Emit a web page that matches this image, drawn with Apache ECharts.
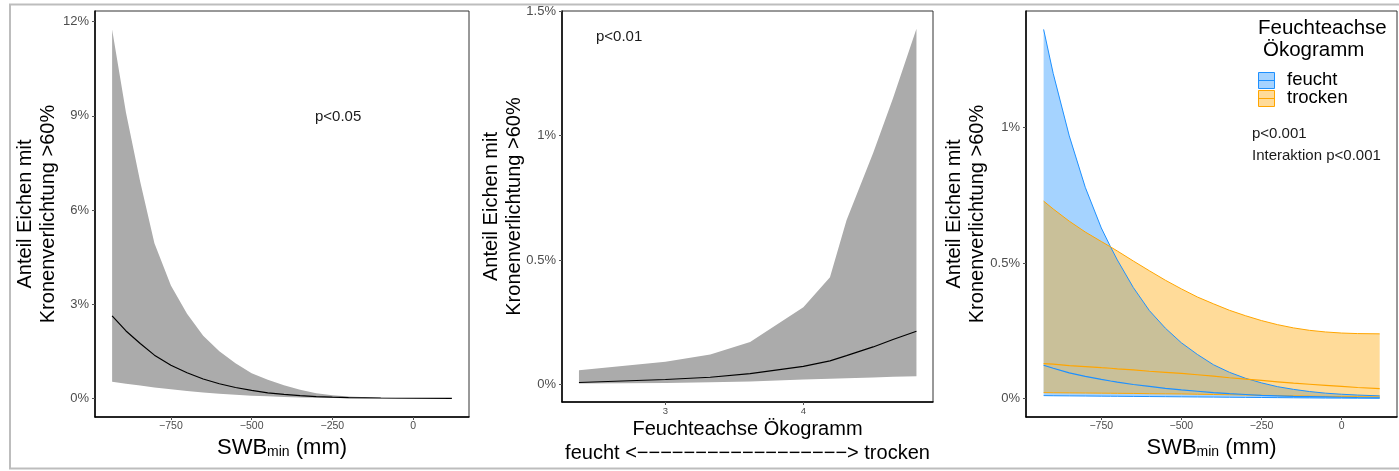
<!DOCTYPE html>
<html>
<head>
  <meta http-equiv="Content-Type" content="text/html; charset=utf-8" />
  <script type="text/javascript" src="https://cdn.jsdelivr.net/npm/echarts@6/dist/echarts.min.js"></script>
  <style type="text/css">
    body, html { width: 100%; height: 100%; margin: 0; background: #fff; }
    #main { width: 1399px; height: 471px; }
  </style>
  <title>Kronenverlichtung Eichen</title>
</head>
<body>
  <div id="main"></div>
<script type="text/javascript">
  // --- panel 1: SWBmin ---
  const swb = [-932, -889, -845, -801, -750, -700, -650, -600, -550, -500, -450, -400, -350, -300, -250, -200, -100, 0, 120]
  const p1Upper = [11.75, 9.1, 6.9, 4.94, 3.6, 2.7, 2.0, 1.5, 1.12, 0.8, 0.6, 0.42, 0.28, 0.17, 0.1, 0.06, 0.02, 0.006, 0.002]
  const p1Mean = [2.63, 2.15, 1.75, 1.38, 1.06, 0.82, 0.62, 0.47, 0.35, 0.26, 0.18, 0.13, 0.09, 0.06, 0.04, 0.03, 0.015, 0.007, 0.003]
  const p1Lower = [0.53, 0.47, 0.41, 0.35, 0.29, 0.24, 0.19, 0.15, 0.12, 0.09, 0.07, 0.05, 0.035, 0.025, 0.015, 0.01, 0.004, 0.002, 0.001]

  // --- panel 2: Feuchteachse ---
  const eco = [2.373, 3.0, 3.325, 3.614, 4.0, 4.193, 4.313, 4.506, 4.65, 4.82]
  const p2Upper = [0.056, 0.09, 0.12, 0.17, 0.31, 0.43, 0.66, 0.93, 1.15, 1.43]
  const p2Mean = [0.007, 0.019, 0.028, 0.043, 0.072, 0.094, 0.115, 0.15, 0.18, 0.213]
  const p2Lower = [0.003, 0.005, 0.008, 0.011, 0.019, 0.022, 0.024, 0.027, 0.03, 0.032]

  // --- panel 3: SWBmin x Feuchteachse ---
  const swb3 = [-930, -900, -850, -800, -750, -721, -700, -650, -600, -550, -500, -450, -400, -350, -300, -250, -200, -150, -100, -50, 0, 50, 119]
  const feuchtUpper = [1.363, 1.2, 0.97, 0.78, 0.63, 0.56, 0.512, 0.41, 0.325, 0.26, 0.206, 0.163, 0.125, 0.097, 0.075, 0.058, 0.044, 0.034, 0.026, 0.02, 0.016, 0.013, 0.01]
  const feuchtMean = [0.123, 0.112, 0.095, 0.082, 0.071, 0.065, 0.061, 0.052, 0.045, 0.038, 0.032, 0.027, 0.022, 0.018, 0.015, 0.012, 0.01, 0.008, 0.007, 0.006, 0.005, 0.004, 0.003]
  const feuchtLower = [0.011, 0.0105, 0.01, 0.0095, 0.009, 0.0087, 0.0085, 0.008, 0.0075, 0.007, 0.0065, 0.006, 0.0055, 0.005, 0.0045, 0.004, 0.0035, 0.003, 0.0025, 0.002, 0.0018, 0.0015, 0.0012]
  const trockenUpper = [0.729, 0.7, 0.655, 0.615, 0.58, 0.56, 0.545, 0.508, 0.472, 0.437, 0.405, 0.375, 0.35, 0.326, 0.306, 0.288, 0.273, 0.261, 0.252, 0.246, 0.242, 0.24, 0.239]
  const trockenMean = [0.129, 0.127, 0.122, 0.118, 0.114, 0.112, 0.11, 0.106, 0.101, 0.097, 0.093, 0.088, 0.083, 0.077, 0.072, 0.067, 0.062, 0.057, 0.053, 0.049, 0.045, 0.041, 0.037]
  const trockenLower = [0.022, 0.0215, 0.021, 0.0205, 0.02, 0.0197, 0.0195, 0.019, 0.018, 0.0175, 0.017, 0.016, 0.015, 0.014, 0.013, 0.012, 0.011, 0.01, 0.009, 0.008, 0.0075, 0.007, 0.006]

  const swbTicks = [-750, -500, -250, 0]
  const p1YTicks = [0, 3, 6, 9, 12]
  const p2XTicks = [3, 4]
  const p2YTicks = [0, 0.5, 1, 1.5]
  const p3YTicks = [0, 0.5, 1]

  const FONT = 'Liberation Sans, Arial, sans-serif'
  const yTitle = 'Anteil Eichen mit\nKronenverlichtung >60%'
  const swbTitle = '{a|SWB}{s|min}{a| (mm)}'
  const ecoTitle = 'Feuchteachse Ökogramm\nfeucht <' + '\u2212'.repeat(18) + '> trocken'
  const swbRich = {
    a: { fontSize: 22, fontFamily: FONT, color: '#000', verticalAlign: 'bottom' },
    s: { fontSize: 14, fontFamily: FONT, color: '#000', verticalAlign: 'bottom' }
  }

  let myChart = echarts.init(document.getElementById('main'))

  function minus(v) {
    return v < 0 ? '\u2212' + Math.abs(v) : '' + v
  }

  function xAx(idx, min, max, ticks, name, nameGap, labelSize, nameStyle) {
    return {
      type: 'value', gridIndex: idx, min: min, max: max,
      axisLine: { onZero: false, lineStyle: { color: '#000', width: 1.5 } },
      axisTick: { length: 3, lineStyle: { color: '#555' }, customValues: ticks },
      axisLabel: { customValues: ticks, formatter: minus, fontSize: labelSize, color: '#4d4d4d', fontFamily: FONT, margin: 4 },
      splitLine: { show: false },
      name: name, nameLocation: 'middle', nameGap: nameGap, nameMoveOverlap: false,
      nameTextStyle: nameStyle
    }
  }

  function yAx(idx, min, max, ticks, nameGap) {
    return {
      type: 'value', gridIndex: idx, min: min, max: max,
      axisLine: { onZero: false, lineStyle: { color: '#000', width: 1.5 } },
      axisTick: { length: 3, lineStyle: { color: '#555' }, customValues: ticks },
      axisLabel: { customValues: ticks, formatter: v => v + '%', fontSize: 13, color: '#4d4d4d', fontFamily: FONT, margin: 6 },
      splitLine: { show: false },
      name: yTitle, nameLocation: 'middle', nameGap: nameGap, nameMoveOverlap: false,
      nameTextStyle: { fontSize: 20, lineHeight: 23, color: '#000', fontFamily: FONT, align: 'center' }
    }
  }

  // ribbon polygon between lo and hi, placed with the grid's own scales
  function ribbon(idx, xs, lo, hi, fill) {
    return {
      type: 'custom', xAxisIndex: idx, yAxisIndex: idx, silent: true,
      data: xs.map((x, i) => [x, lo[i], hi[i]]),
      renderItem: function (params, api) {
        if (params.dataIndex !== 0) return
        let pts = []
        for (let i = 0; i < xs.length; i++) pts.push(api.coord([xs[i], hi[i]]))
        for (let i = xs.length - 1; i >= 0; i--) pts.push(api.coord([xs[i], lo[i]]))
        return { type: 'polygon', shape: { points: pts }, style: { fill: fill } }
      }
    }
  }

  function line(idx, xs, ys, color, width) {
    return {
      type: 'line', xAxisIndex: idx, yAxisIndex: idx, symbol: 'none', silent: true,
      data: xs.map((x, i) => [x, ys[i]]), lineStyle: { color: color, width: width }
    }
  }

  function txt(x, y, text, size) {
    return { type: 'text', x: x, y: y, style: { text: text, font: size + 'px ' + FONT, fill: '#1a1a1a', align: 'left', verticalAlign: 'middle' } }
  }

  const gridStyle = { show: true, borderColor: '#333', borderWidth: 1, backgroundColor: 'transparent' }

  option = {
    animation: false,
    grid: [
      Object.assign({ left: 95, top: 11, width: 374, height: 406 }, gridStyle),
      Object.assign({ left: 562, top: 11, width: 371, height: 391 }, gridStyle),
      Object.assign({ left: 1026, top: 11, width: 371, height: 406 }, gridStyle)
    ],
    xAxis: [
      xAx(0, -985, 173, swbTicks, swbTitle, 20, 10.5, { rich: swbRich }),
      xAx(1, 2.25, 4.94, p2XTicks, ecoTitle, 16, 9.5,
        { fontSize: 20, lineHeight: 23.5, color: '#000', fontFamily: FONT, align: 'center' }),
      xAx(2, -985, 173, swbTicks, swbTitle, 20, 10.5, { rich: swbRich })
    ],
    yAxis: [
      yAx(0, -0.59, 12.34, p1YTicks, 35),
      yAx(1, -0.0715, 1.5015, p2YTicks, 36),
      yAx(2, -0.068, 1.431, p3YTicks, 37)
    ],
    series: [
      ribbon(0, swb, p1Lower, p1Upper, '#ababab'),
      line(0, swb, p1Mean, '#000', 1.2),
      ribbon(1, eco, p2Lower, p2Upper, '#ababab'),
      line(1, eco, p2Mean, '#000', 1.2),
      ribbon(2, swb3, feuchtLower, feuchtUpper, 'rgba(30,144,255,0.4)'),
      line(2, swb3, feuchtUpper, '#1e90ff', 1),
      line(2, swb3, feuchtLower, '#1e90ff', 1),
      ribbon(2, swb3, trockenLower, trockenUpper, 'rgba(255,165,0,0.4)'),
      line(2, swb3, trockenUpper, '#ffa500', 1),
      line(2, swb3, trockenLower, '#ffa500', 1),
      line(2, swb3, feuchtMean, '#1e90ff', 1.2),
      line(2, swb3, trockenMean, '#ffa500', 1.2)
    ],
    graphic: [
      { type: 'rect', z: -10, shape: { x: 10, y: 4.5, width: 1400, height: 464 }, style: { fill: 'none', stroke: '#bdbdbd', lineWidth: 2 } },
      txt(315, 117, 'p<0.05', 15),
      txt(596, 37, 'p<0.01', 15),
      txt(1252, 134, 'p<0.001', 15),
      txt(1252, 156, 'Interaktion p<0.001', 15),
      { type: 'text', x: 1258, y: 28, style: { text: 'Feuchteachse', font: '20.5px ' + FONT, fill: '#000', align: 'left', verticalAlign: 'middle' } },
      { type: 'text', x: 1263, y: 50, style: { text: 'Ökogramm', font: '20.5px ' + FONT, fill: '#000', align: 'left', verticalAlign: 'middle' } },
      { type: 'rect', shape: { x: 1258.5, y: 72.5, width: 16, height: 16 }, style: { fill: 'rgba(30,144,255,0.4)', stroke: '#1e90ff', lineWidth: 1 } },
      { type: 'line', shape: { x1: 1258.5, y1: 80.5, x2: 1274.5, y2: 80.5 }, style: { stroke: '#1e90ff', lineWidth: 1 } },
      { type: 'rect', shape: { x: 1258.5, y: 90.5, width: 16, height: 16 }, style: { fill: 'rgba(255,165,0,0.4)', stroke: '#ffa500', lineWidth: 1 } },
      { type: 'line', shape: { x1: 1258.5, y1: 98.5, x2: 1274.5, y2: 98.5 }, style: { stroke: '#ffa500', lineWidth: 1 } },
      { type: 'text', x: 1287, y: 80, style: { text: 'feucht', font: '18.5px ' + FONT, fill: '#000', align: 'left', verticalAlign: 'middle' } },
      { type: 'text', x: 1287, y: 98, style: { text: 'trocken', font: '18.5px ' + FONT, fill: '#000', align: 'left', verticalAlign: 'middle' } }
    ]
  }

  myChart.setOption(option)
</script>
</body>
</html>
